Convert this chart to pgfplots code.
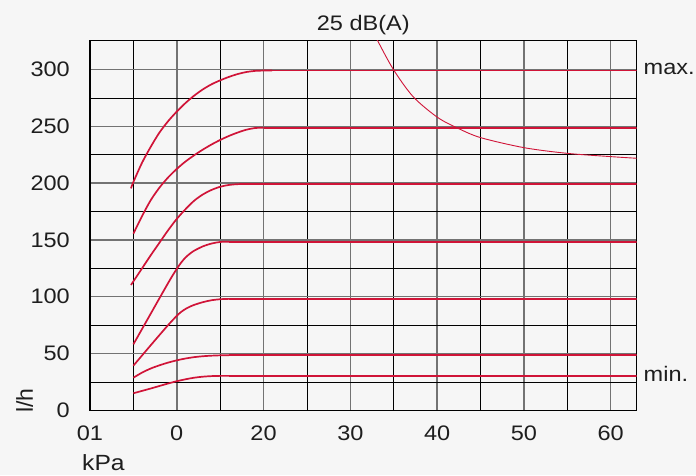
\documentclass[border=0pt]{standalone}
\usepackage{fontspec}
\setmainfont{Liberation Sans}[FakeStretch=1.12]
\newfontfamily\lhfont{Liberation Sans}
\usepackage{pgfplots}
\pgfplotsset{compat=1.18}
\definecolor{bg}{RGB}{246,246,246}
\definecolor{curve}{RGB}{208,20,56}
\definecolor{majgrid}{RGB}{115,115,115}
\definecolor{txt}{RGB}{30,30,30}
\begin{document}
\begin{tikzpicture}
\path[use as bounding box, fill=bg] (-90pt,-64.7pt) rectangle (606pt,410.3pt);
\begin{axis}[
 at={(0pt,0pt)}, anchor=south west,
 width=546.7pt, height=369.6pt, scale only axis,
 xmin=0, xmax=63, ymin=0, ymax=325.4,
 xtick={0,10,...,60}, xticklabels={01,0,20,30,40,50,60},
 minor xtick={5,15,...,55},
 ytick={0,50,...,300}, yticklabels={0,50,100,150,200,250,300},
 minor ytick={25,75,...,275},
 grid=both,
 major grid style={draw=majgrid, line width=1.5pt},
 minor grid style={draw=black, line width=0.8pt},
 major tick length=0pt, minor tick length=0pt,
 axis line style={draw=black, line width=1.3pt},
 tick label style={font=\fontsize{21}{25}\selectfont, text=txt, inner sep=0pt},
 x tick label style={anchor=north, yshift=-15pt},
 y tick label style={anchor=east, xshift=-20pt},
 rc/.style={draw=curve, line width=1.7pt, no markers},
]
% max
\addplot[rc, smooth] coordinates {(4.72,195.4) (5,201) (6,218) (7,232) (8,244.5) (9,254.5) (10,263) (11,270.5) (12,277) (13,282.5) (14,287) (15,290.5) (16,293.5) (17,296) (18,297.8) (19,298.8) (20,299.1) (21,299.1)};
\addplot[rc] coordinates {(21,299.1) (63,299.1)};
% 250
\addplot[rc, smooth] coordinates {(5,155.5) (6,171) (7,185) (8,196) (9,205) (10,212.5) (11,219) (12,224.5) (13,229.5) (14,234) (15,238) (16,241.5) (17,244.5) (18,247) (19,248.5) (20,248.7)};
\addplot[rc] coordinates {(20,248.7) (63,248.7)};
% 200
\addplot[rc, smooth] coordinates {(4.72,110.3) (6,125) (7,136.5) (8,147.5) (9,158.5) (10,168.5) (11,177) (12,184.5) (13,190) (14,194) (15,196.8) (16,198.4) (17,199.1) (18,199.2)};
\addplot[rc] coordinates {(18,199.2) (63,199.2)};
% 150
\addplot[rc, smooth] coordinates {(5,58.1) (6,71.6) (7,85.1) (8,98.6) (9,112) (9.5,118.5) (10,124.5) (10.5,130) (11,134.5) (11.5,137.8) (12,140.5) (13,144.3) (14,146.8) (15,148.2) (16,148.4)};
\addplot[rc] coordinates {(16,148.4) (30,148.4) (45,148.4) (63,148.4)};
% 100
\addplot[rc, smooth] coordinates {(5,39.3) (6,48.3) (7,57.3) (8,66.2) (9,75) (10,83.2) (10.5,86.6) (11,89.2) (11.5,91.2) (12,92.8) (13,95.2) (14,96.9) (15,97.8) (16,98.1)};
\addplot[rc] coordinates {(16,98.1) (63,98.1)};
% 50
\addplot[rc, smooth] coordinates {(5,28.7) (6,33.2) (7,36.8) (8,39.6) (9,42) (10,44) (11,45.6) (12,46.8) (13,47.6) (14,48.1) (15,48.4) (16,48.5)};
\addplot[rc] coordinates {(16,48.5) (63,48.5)};
% min
\addplot[rc, smooth] coordinates {(5,15) (6,17.1) (7,19.2) (8,21.4) (9,23.6) (10,25.6) (11,27.3) (12,28.7) (13,29.6) (14,30.1) (15,30.3) (16,30.3)};
\addplot[rc] coordinates {(16,30.3) (63,30.3)};
% noise limit
\addplot[rc, smooth, line width=0.9pt] coordinates {(32.8,330) (33.1,326) (34.95,300.2) (37.25,276) (40.05,257.9) (42.43,248.2) (45.04,240) (50.03,231.2) (55.03,226.2) (60.1,223.3) (63.2,221.8)};
\end{axis}
\node[anchor=base, inner sep=0pt, text=txt, font=\fontsize{21}{25}\selectfont] at (273.3pt,380.3pt) {25 dB(A)};
\node[anchor=base west, inner sep=0pt, text=txt, font=\fontsize{21}{25}\selectfont] at (553.5pt,336pt) {max.};
\node[anchor=base west, inner sep=0pt, text=txt, font=\fontsize{21}{25}\selectfont] at (553.5pt,28.6pt) {min.};
\node[anchor=base west, inner sep=0pt, text=txt, font=\fontsize{22}{26}\selectfont] at (-8pt,-60.4pt) {kPa};
\node[rotate=90, anchor=base west, inner sep=0pt, text=txt, font=\lhfont\fontsize{23}{27}\selectfont] at (-57pt,-2.7pt) {l/h};
\end{tikzpicture}
\end{document}
